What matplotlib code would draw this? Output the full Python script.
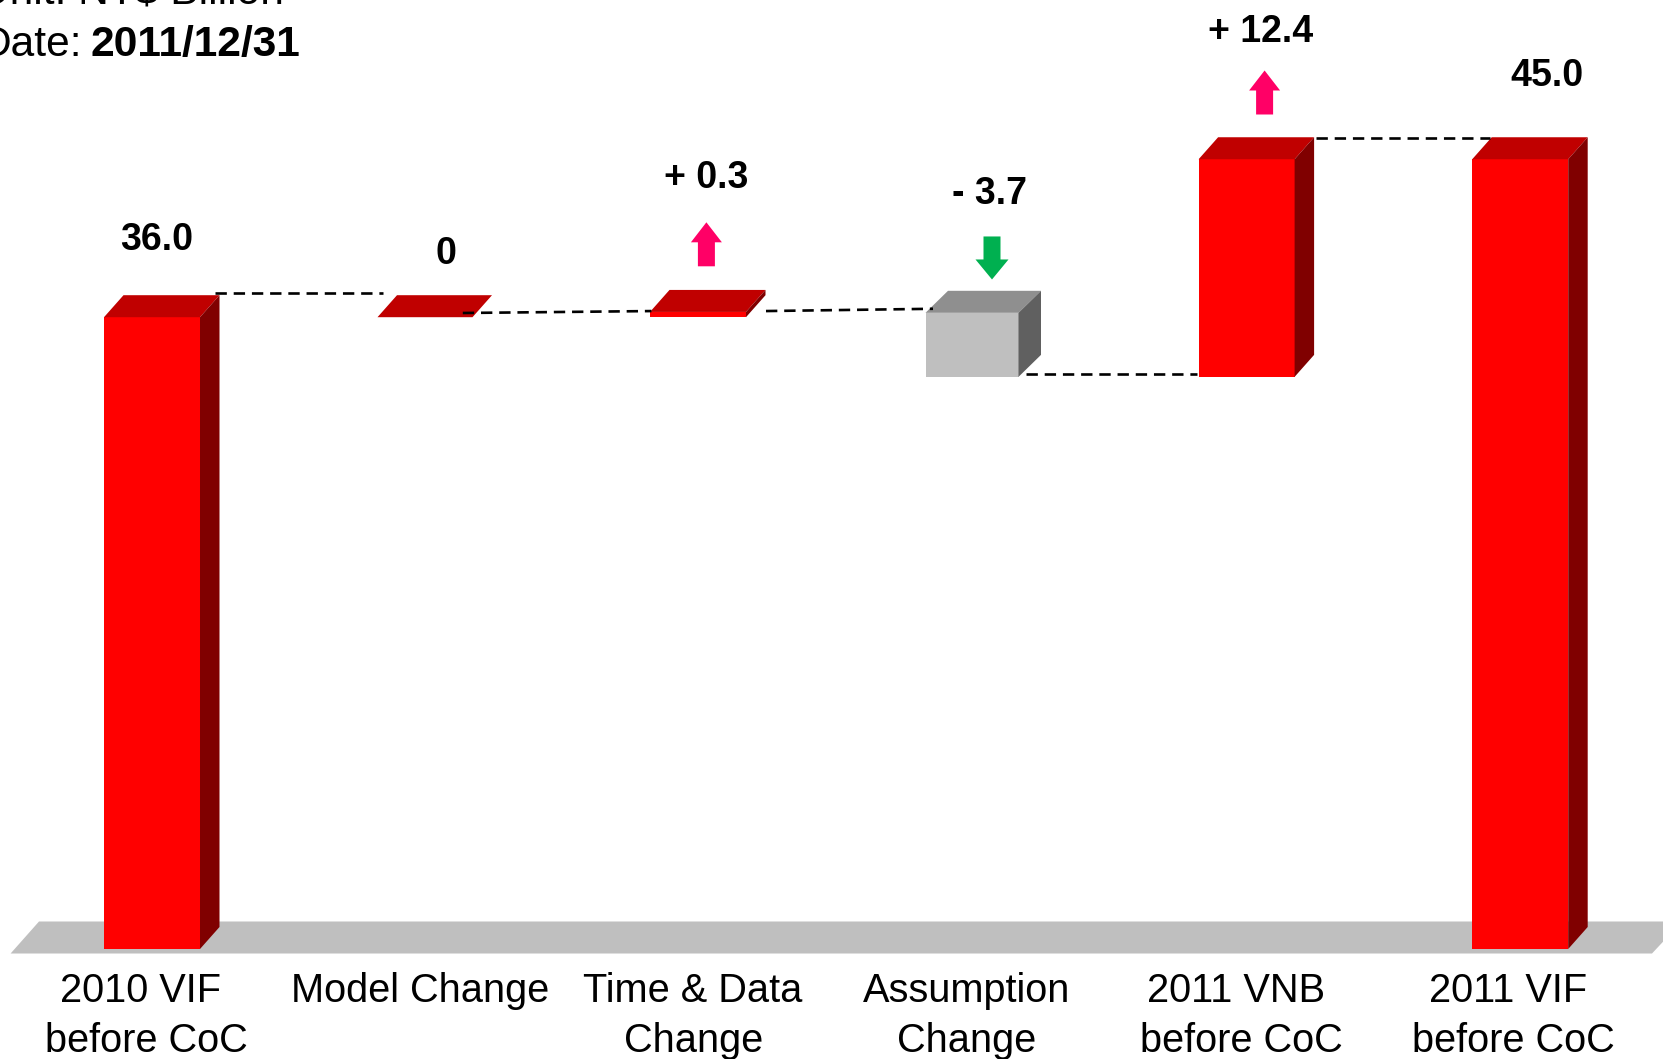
from __future__ import annotations

import matplotlib
matplotlib.use('Agg')
import matplotlib.pyplot as plt
from matplotlib.transforms import Affine2D

plt.rcParams['font.family'] = ['Liberation Sans', 'DejaVu Sans']

W, H = 1663, 1059
OUT_PNG = 'out.png'

LABEL_LINE1 = ['2010 VIF', 'Model Change', 'Time & Data', 'Assumption', '2011 VNB', '2011 VIF']
LABEL_LINE2 = ['before CoC', '', 'Change', 'Change', 'before CoC', 'before CoC']
BAR_BOTTOM = [0.0, 36.0, 36.0, 32.6, 32.6, 0.0]
BAR_TOP = [36.0, 36.0, 36.3, 36.25, 45.0, 45.0]
VALUE_LABELS = ['36.0', '0', '+ 0.3', '- 3.7', '+ 12.4', '45.0']

# connector levels between neighbouring bars, in the chart's value units
CONN_START = [37.36, 36.24, 36.35, 32.78, 46.2]
CONN_END = [37.36, 36.35, 36.48, 32.78, 46.2]

# arrows: bar index, direction, level of the arrow's tail
ARROW_BAR = [2, 3, 4]
ARROW_DIR = [1, -1, 1]
ARROW_TAIL = [38.9, 40.6, 47.55]

# pixel scale of the axes
PX_X = 273.6
PX_Y = 17.55
X0_PX = 152.2
BASE_PX = 949.0

RED = ('#FF0000', '#C00000', '#800000')
GREY = ('#BFBFBF', '#8F8F8F', '#606060')
PINK = '#FF0066'
GREEN = '#00B050'


def dx(px: float) -> float:
    return px / PX_X


def dy(px: float) -> float:
    return px / PX_Y


def draw_bar(ax, x, low, high, width, colors, depth_px=19.5):
    front, top, side = colors
    left, right = x - dx(width / 2), x + dx(width / 2)
    depth_x, depth_y = dx(depth_px), dy(22)
    if high > low:
        ax.fill([left, right, right, left], [low, low, high, high], color=front, lw=0, zorder=3)
    ax.fill([left, right, right + depth_x, left + depth_x],
            [high, high, high + depth_y, high + depth_y], color=top, lw=0, zorder=3)
    if high > low:
        ax.fill([right, right + depth_x, right + depth_x, right],
                [low, low + depth_y, high + depth_y, high], color=side, lw=0, zorder=3)


def draw_arrow(ax, x, tail, direction, color, half_head, half_shaft, shaft, head):
    s = direction
    xs = [-half_shaft, half_shaft, half_shaft, half_head, 0, -half_head, -half_shaft]
    ys = [0, 0, shaft, shaft, shaft + head, shaft, shaft]
    ax.fill([x + dx(v) for v in xs], [tail + s * dy(v) for v in ys], color=color, lw=0, zorder=4)


def main() -> None:
    fig = plt.figure(figsize=(W / 100, H / 100), dpi=100)
    ax = fig.add_axes([0, 0, 1, 1])
    ax.set_xlim(-X0_PX / PX_X, (W - X0_PX) / PX_X)
    ax.set_ylim((BASE_PX - H) / PX_Y, BASE_PX / PX_Y)
    ax.axis('off')

    # pixel coordinates (y down) for the text
    px = Affine2D().scale(1, -1).translate(0, H)

    # floor
    fx = [10.6, 1652, 1682, 39]
    fy = [953.5, 953.5, 921.5, 921.5]
    ax.fill(fx, fy, color='#BFBFBF', lw=0, zorder=1, transform=px)

    shifts = [-0.2, -0.8, -1.4, -1.0, 0.0, 0.0]
    widths = [96, 95, 96, 93, 96, 96]
    depths = [19.5, 19.5, 19.5, 22.5, 19.5, 19.5]
    for i, (low, high) in enumerate(zip(BAR_BOTTOM, BAR_TOP)):
        colors = GREY if i == 3 else RED
        draw_bar(ax, i + dx(shifts[i]), low, high, widths[i], colors, depths[i])

    start_off = [62.8, 37, 66.6, 53, 69.4]
    end_off = [-42.8, -48, -40, -50, -30]
    for i in range(len(CONN_START)):
        ax.plot([i + dx(start_off[i]), i + 1 + dx(end_off[i])], [CONN_START[i], CONN_END[i]],
                color='black', lw=1.9, linestyle=(0, (4.3, 2.6)), zorder=5)

    arrow_off = [7, 19, 18]
    half_shaft = [8.5, 8.5, 8.5]
    for i, bar in enumerate(ARROW_BAR):
        color = PINK if ARROW_DIR[i] > 0 else GREEN
        half_head = 15.5 if ARROW_DIR[i] > 0 else 16.5
        shaft = 24 if ARROW_DIR[i] > 0 else 23
        head = 20
        draw_arrow(ax, bar + dx(arrow_off[i]), ARROW_TAIL[i], ARROW_DIR[i], color, half_head, half_shaft[i], shaft, head)

    # value labels
    val_x = [156.4, 445.5, 706, 989.5, 1261, 1546.5]
    val_y = [249.5, 264.5, 188.5, 204.5, 41.5, 86.5]
    for x, y, s in zip(val_x, val_y, VALUE_LABELS):
        ax.text(x, y, s, transform=px, ha='center', va='baseline', fontsize=27, fontweight='bold', color='black')

    # category labels
    line1_x = [141, 420, 692.6, 966.5, 1236.2, 1508]
    line2_x = [146, 420, 693.6, 967, 1241, 1513.5]
    for i in range(len(LABEL_LINE1)):
        ax.text(line1_x[i], 1001.7, LABEL_LINE1[i], transform=px, ha='center', va='baseline', fontsize=28.6, color='black')
        ax.text(line2_x[i], 1051.7, LABEL_LINE2[i], transform=px, ha='center', va='baseline', fontsize=28.6, color='black')

    # header, runs off the top left corner as in the source slide
    ax.text(-21, 4, 'Unit: NT$ Billion', transform=px, ha='left', va='baseline', fontsize=30.6, color='black')
    ax.text(-20, 56, 'Date:', transform=px, ha='left', va='baseline', fontsize=30.6, color='black')
    ax.text(90, 56, '2011/12/31', transform=px, ha='left', va='baseline', fontsize=30.6, fontweight='bold', color='black')

    fig.savefig(OUT_PNG, dpi=100)
    plt.close(fig)


if __name__ == '__main__':
    main()
